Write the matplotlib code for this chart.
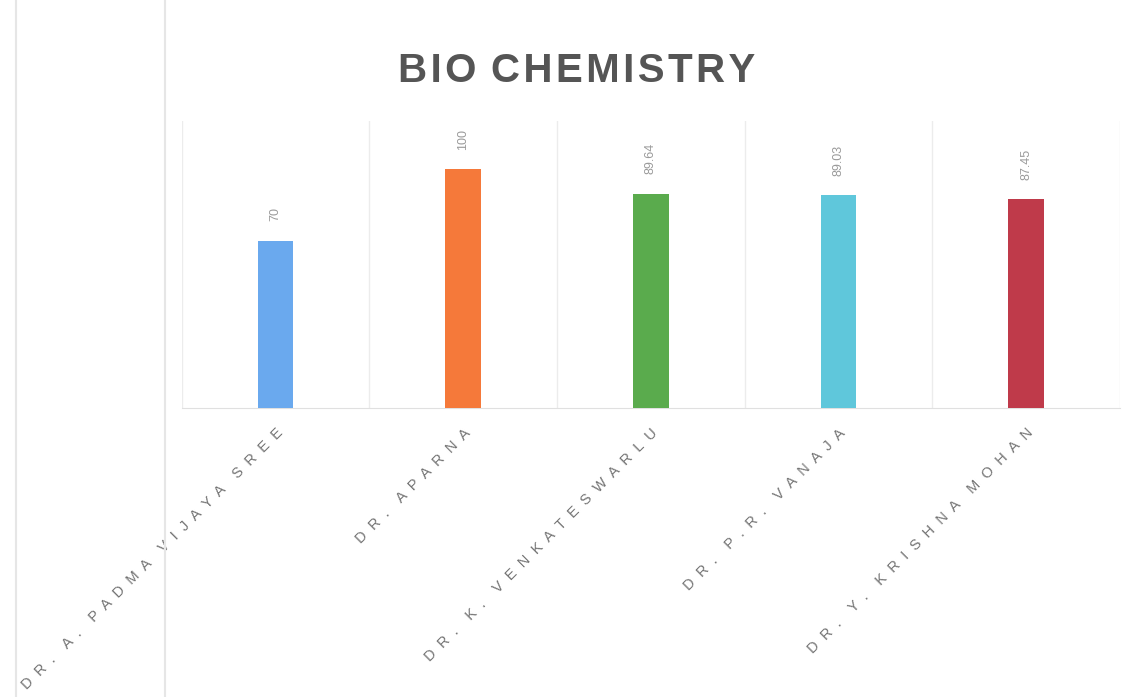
import matplotlib
matplotlib.use("Agg")
from matplotlib import pyplot as plt
from matplotlib.lines import Line2D

names = ["DR. A. PADMA VIJAYA SREE", "DR. APARNA", "DR. K. VENKATESWARLU",
         "DR. P.R. VANAJA", "DR. Y. KRISHNA MOHAN"]
scores = [70, 100, 89.64, 89.03, 87.45]
score_labels = ["70", "100", "89.64", "89.03", "87.45"]
colors = ["#6aa9ee", "#f5793a", "#5aab4d", "#5fc7db", "#bf3a4a"]

fam = ["Liberation Sans", "DejaVu Sans"]


def spread(s, sep, wsep):
    # the scanned text is letter-spaced
    return wsep.join(sep.join(w) for w in s.split(" "))


fig = plt.figure(figsize=(11.36, 6.97), dpi=100)
ax = fig.add_axes([0.160, 0.415, 0.826, 0.411])

x = range(len(names))
bars = ax.bar(x, scores, width=0.19, color=colors, zorder=3)

for b, lab in zip(bars, score_labels):
    ax.annotate(lab, (b.get_x() + b.get_width() / 2, b.get_height()),
                xytext=(0, 14), textcoords="offset points",
                rotation=90, ha="center", va="bottom",
                fontsize=9, color="#9a9a9a", family=fam)

ax.set_xlim(-0.5, 4.5)
ax.set_ylim(0, 120)
ax.set_xticks(list(x))
ax.set_xticklabels([spread(n, "  ", "    ") for n in names],
                   rotation=45, ha="right", rotation_mode="anchor",
                   fontsize=10.5, color="#747474", family=fam)
ax.set_xticks([i + 0.5 for i in range(-1, 5)], minor=True)
ax.tick_params(axis="x", which="both", length=0, pad=13)
ax.set_yticks([])
ax.grid(axis="x", which="minor", color="#ececec", lw=1, zorder=0)
for s in ["top", "right", "left"]:
    ax.spines[s].set_visible(False)
ax.spines["bottom"].set_color("#e0e0e0")

fig.text(0.508, 0.898, spread("BIO CHEMISTRY", "\u200a", " \u200a"),
         ha="center", va="center",
         fontsize=29, fontweight="bold", color="#555555", family=fam)

# frame lines from the scanned page
fig.add_artist(Line2D([0.014, 0.014], [0, 1], color="#e6e6e6", lw=1.5))
fig.add_artist(Line2D([0.145, 0.145], [0, 1], color="#e6e6e6", lw=1.5))

fig.savefig("out.png", dpi=100)
